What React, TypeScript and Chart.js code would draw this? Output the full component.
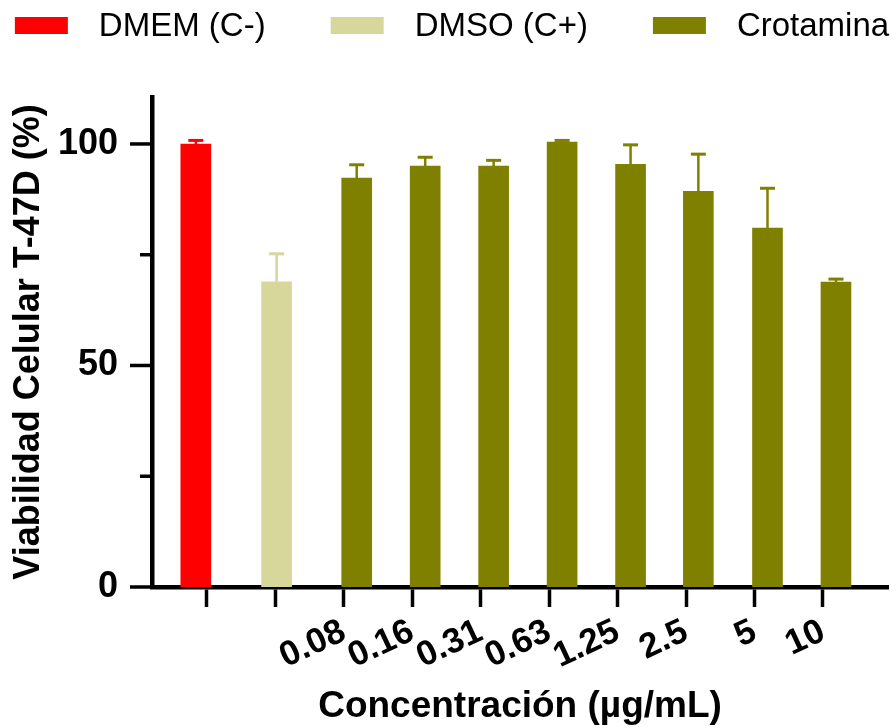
import React, { useEffect, useRef } from 'react';
import { Chart, registerables } from 'chart.js';

Chart.register(...registerables);

// ---- data ----
const seriesNames = ['DMEM (C-)', 'DMSO (C+)', 'Crotamina'];
const seriesColors = ['#FF0000', '#D7D79B', '#808000'];

// x-axis tick labels (one per tick slot 0..9)
const tickLabels = ['', '', '0.08', '0.16', '0.31', '0.63', '1.25', '2.5', '5', '10'];

// bar slot positions on the category axis
const dmemSlots = [-0.16];
const dmsoSlots = [1.02];
const crotaminaSlots = [2.19, 3.19, 4.19, 5.19, 6.19, 7.18, 8.19, 9.19];

// means (%)
const dmemMeans = [100.0];
const dmsoMeans = [68.9];
const crotaminaMeans = [92.3, 95.0, 95.0, 100.4, 95.4, 89.3, 81.0, 68.85];

// upper error (SD)
const dmemErrors = [0.8];
const dmsoErrors = [6.3];
const crotaminaErrors = [3.0, 2.0, 1.3, 0.4, 4.4, 8.4, 9.0, 0.65];

const yTickValues = [0, 25, 50, 75, 100];
const yMax = 110.6;

const FONT = '"Liberation Sans", Arial, sans-serif';

const toPoints = (xs: number[], ys: number[]) => xs.map((x, i) => ({ x, y: ys[i] }));

const errorBarPlugin = {
  id: 'errorBars',
  afterDatasetsDraw(chart: any) {
    const ctx = chart.ctx;
    const yScale = chart.scales.y;
    chart.data.datasets.forEach((ds: any, i: number) => {
      const meta = chart.getDatasetMeta(i);
      meta.data.forEach((bar: any, j: number) => {
        const mean = ds.data[j].y;
        const err = ds.errors[j];
        const base = yScale.getPixelForValue(mean);
        const top = yScale.getPixelForValue(mean + err);
        ctx.save();
        ctx.strokeStyle = ds.backgroundColor;
        ctx.lineWidth = 2.5;
        ctx.beginPath();
        ctx.moveTo(bar.x, base);
        ctx.lineTo(bar.x, top);
        ctx.stroke();
        ctx.lineWidth = 3;
        ctx.beginPath();
        ctx.moveTo(bar.x - 7.5, top);
        ctx.lineTo(bar.x + 7.5, top);
        ctx.stroke();
        ctx.restore();
      });
    });
  },
};

const yTickPlugin = {
  id: 'yTicks',
  afterDraw(chart: any) {
    const ctx = chart.ctx;
    const yScale = chart.scales.y;
    const left = chart.chartArea.left;
    ctx.save();
    ctx.strokeStyle = '#000';
    ctx.lineWidth = 3.5;
    yScale.ticks.forEach((t: any) => {
      const py = yScale.getPixelForValue(t.value);
      const major = t.value % 50 === 0;
      const len = major ? 22 : 12;
      ctx.beginPath();
      ctx.moveTo(left - len, py);
      ctx.lineTo(left, py);
      ctx.stroke();
    });
    ctx.restore();
  },
};

const legendPlugin = {
  id: 'topLegend',
  afterDraw(chart: any) {
    const ctx = chart.ctx;
    ctx.save();
    ctx.font = `33px ${FONT}`;
    const widths = seriesNames.map((n) => ctx.measureText(n).width);
    const boxW = 53;
    const boxH = 17;
    const gap = 31;
    const itemGap = 65;
    const total = widths.reduce((a, b) => a + b, 0) + seriesNames.length * (boxW + gap) + (seriesNames.length - 1) * itemGap;
    let x = 452 - total / 2;
    const cy = 25.5;
    seriesNames.forEach((name, i) => {
      ctx.fillStyle = seriesColors[i];
      ctx.fillRect(x, cy - boxH / 2, boxW, boxH);
      x += boxW + gap;
      ctx.fillStyle = '#000';
      ctx.textBaseline = 'middle';
      ctx.textAlign = 'left';
      ctx.fillText(name, x, cy + 1);
      x += widths[i] + itemGap;
    });
    ctx.restore();
  },
};

export default function App() {
  const canvasRef = useRef<HTMLCanvasElement | null>(null);

  useEffect(() => {
    if (!canvasRef.current) return;
    const datasets = [
      { label: seriesNames[0], data: toPoints(dmemSlots, dmemMeans), errors: dmemErrors, backgroundColor: seriesColors[0] },
      { label: seriesNames[1], data: toPoints(dmsoSlots, dmsoMeans), errors: dmsoErrors, backgroundColor: seriesColors[1] },
      { label: seriesNames[2], data: toPoints(crotaminaSlots, crotaminaMeans), errors: crotaminaErrors, backgroundColor: seriesColors[2] },
    ];
    const chart = new Chart(canvasRef.current, {
      type: 'bar',
      data: { datasets: datasets as any },
      options: {
        animation: false,
        responsive: false,
        devicePixelRatio: 1,
        layout: { padding: { top: 97, right: 4, left: 0, bottom: 0 } },
        datasets: { bar: { barThickness: 30, grouped: false, borderWidth: 0 } } as any,
        plugins: { legend: { display: false }, tooltip: { enabled: false } },
        scales: {
          x: {
            type: 'linear',
            min: -0.8,
            max: 9.95,
            bounds: 'data',
            offset: false,
            grid: { display: true, drawOnChartArea: false, drawTicks: true, tickLength: 20, tickWidth: 3.5, tickColor: '#000', offset: false },
            border: { display: true, color: '#000', width: 4.5 },
            afterBuildTicks: (s: any) => {
              s.ticks = tickLabels.map((_, i) => ({ value: i }));
            },
            ticks: {
              autoSkip: false,
              minRotation: 25,
              maxRotation: 25,
              padding: 4,
              color: '#000',
              font: { family: FONT, size: 35, weight: 'bold' },
              callback: (v: any) => tickLabels[Math.round(Number(v))] ?? '',
            },
            title: { display: true, text: 'Concentración (µg/mL)', color: '#000', font: { family: FONT, size: 37, weight: 'bold' }, padding: { top: 0, bottom: -2 } },
            afterFit: (s: any) => { s.height = 140; },
          } as any,
          y: {
            min: 0,
            max: yMax,
            bounds: 'data',
            grid: { display: false },
            border: { display: true, color: '#000', width: 4.5 },
            afterBuildTicks: (s: any) => {
              s.ticks = yTickValues.map((v) => ({ value: v }));
            },
            ticks: {
              padding: 26,
              color: '#000',
              font: { family: FONT, size: 36, weight: 'bold' },
              callback: (v: any) => (Number(v) % 50 === 0 ? String(v) : ''),
            },
            title: { display: true, text: 'Viabilidad Celular T-47D (%)', color: '#000', font: { family: FONT, size: 36, weight: 'bold' }, padding: { top: 7, bottom: 0 } },
            afterFit: (s: any) => { s.width = 152; },
          } as any,
        },
      },
      plugins: [errorBarPlugin, yTickPlugin, legendPlugin],
    });
    return () => chart.destroy();
  }, []);

  return (
    <div style={{ position: 'absolute', left: 0, top: 0, width: 892, height: 727, background: '#fff' }}>
      <canvas ref={canvasRef} width={892} height={727} style={{ display: 'block', width: 892, height: 727 }} />
    </div>
  );
}
